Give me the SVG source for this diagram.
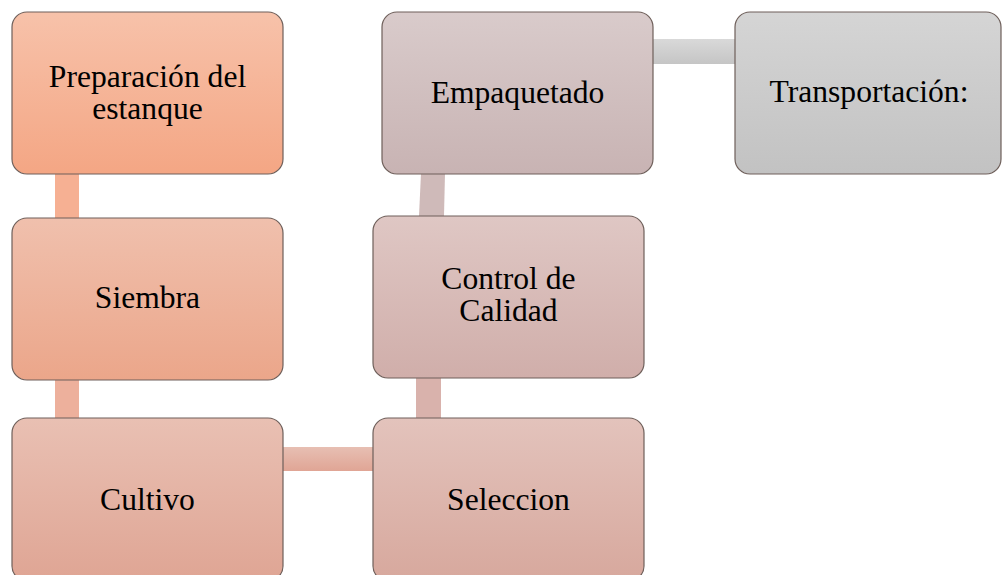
<svg xmlns="http://www.w3.org/2000/svg" width="1002" height="575" viewBox="0 0 1002 575">
<style>
.box{stroke:#6e5f5a;stroke-width:1.2}
.t{font-family:'Liberation Serif','DejaVu Serif',serif;font-size:31.6px;fill:#000;text-anchor:middle}
</style>
<defs>
<linearGradient id="g1" x1="0" y1="0" x2="0" y2="1"><stop offset="0" stop-color="#f7c2aa"/><stop offset="1" stop-color="#f4a684"/></linearGradient>
<linearGradient id="g2" x1="0" y1="0" x2="0" y2="1"><stop offset="0" stop-color="#f0c0ad"/><stop offset="1" stop-color="#eba68a"/></linearGradient>
<linearGradient id="g3" x1="0" y1="0" x2="0" y2="1"><stop offset="0" stop-color="#e9c0b3"/><stop offset="1" stop-color="#dfa594"/></linearGradient>
<linearGradient id="g4" x1="0" y1="0" x2="0" y2="1"><stop offset="0" stop-color="#e3c3bc"/><stop offset="1" stop-color="#d7a89d"/></linearGradient>
<linearGradient id="g5" x1="0" y1="0" x2="0" y2="1"><stop offset="0" stop-color="#dfc7c4"/><stop offset="1" stop-color="#d0aeaa"/></linearGradient>
<linearGradient id="g6" x1="0" y1="0" x2="0" y2="1"><stop offset="0" stop-color="#d9cbcb"/><stop offset="1" stop-color="#c8b3b3"/></linearGradient>
<linearGradient id="g7" x1="0" y1="0" x2="0" y2="1"><stop offset="0" stop-color="#d5d5d5"/><stop offset="1" stop-color="#c2c2c2"/></linearGradient>
<linearGradient id="gh1" x1="0" y1="0" x2="0" y2="1"><stop offset="0" stop-color="#e7bfb3"/><stop offset="1" stop-color="#e0a595"/></linearGradient>
<linearGradient id="gh2" x1="0" y1="0" x2="0" y2="1"><stop offset="0" stop-color="#d9d9d9"/><stop offset="1" stop-color="#c5c5c5"/></linearGradient>
</defs>
<g id="connectors">
<rect x="55" y="173" width="24" height="45" fill="#f6b093"/>
<rect x="55" y="379" width="24" height="40" fill="#edb09c"/>
<rect x="282" y="447" width="92" height="24" fill="url(#gh1)"/>
<rect x="416" y="377" width="25" height="42" fill="#d9b2ac"/>
<polygon points="421,173 445,173 444,216 419,216" fill="#cfbab9"/>
<rect x="652" y="39" width="84" height="25" fill="url(#gh2)"/>
</g>
<g id="n1"><rect class="box" x="12" y="12" width="271" height="162" rx="15" fill="url(#g1)"/>
<text class="t" x="147.5" y="87">Preparación del</text><text class="t" x="147.5" y="119">estanque</text></g>
<g id="n2"><rect class="box" x="12" y="218" width="271" height="162" rx="15" fill="url(#g2)"/>
<text class="t" x="147.5" y="308">Siembra</text></g>
<g id="n3"><rect class="box" x="12" y="418" width="271" height="163" rx="15" fill="url(#g3)"/>
<text class="t" x="147.5" y="510">Cultivo</text></g>
<g id="n4"><rect class="box" x="373" y="418" width="271" height="163" rx="15" fill="url(#g4)"/>
<text class="t" x="508.5" y="510">Seleccion</text></g>
<g id="n5"><rect class="box" x="373" y="216" width="271" height="162" rx="15" fill="url(#g5)"/>
<text class="t" x="508.5" y="289">Control de</text><text class="t" x="508.5" y="321">Calidad</text></g>
<g id="n6"><rect class="box" x="382" y="12" width="271" height="162" rx="15" fill="url(#g6)"/>
<text class="t" x="517.5" y="103">Empaquetado</text></g>
<g id="n7"><rect class="box" x="735" y="12" width="266" height="162" rx="15" fill="url(#g7)"/>
<text class="t" x="869" y="102">Transportación:</text></g>
</svg>
